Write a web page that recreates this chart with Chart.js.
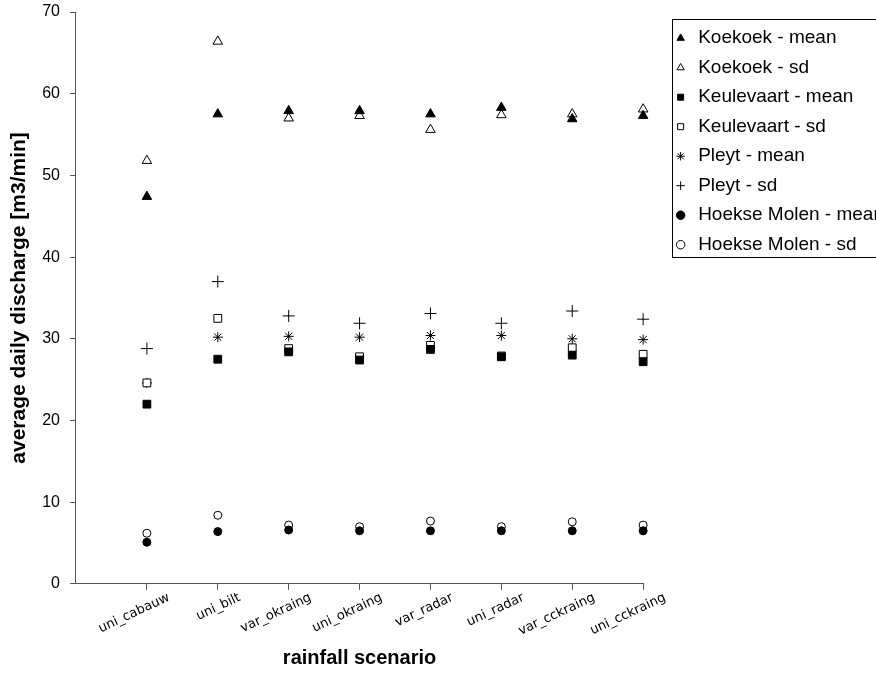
<!DOCTYPE html>
<html>
<head>
<meta charset="utf-8">
<script src="https://cdn.jsdelivr.net/npm/chart.js@4/dist/chart.umd.min.js"></script>
<style>
  html, body { margin: 0; padding: 0; background: #fff; overflow: hidden; }
  #frame { width: 876px; height: 680px; overflow: hidden; position: relative; }
  /* a bit wider than the window so the legend runs off the right edge */
  #wrap { width: 894px; height: 680px; position: absolute; left: 0; top: 0; }
</style>
</head>
<body>
<div id="frame">
  <div id="wrap"><canvas id="chart"></canvas></div>
</div>
<script>
// rainfall scenarios on the x axis
const categories = ["uni_cabauw", "uni_bilt", "var_okraing", "uni_okraing",
                    "var_radar", "uni_radar", "var_cckraing", "uni_cckraing"];

// average daily discharge [m3/min]
const koekoekMean    = [47.4, 57.5, 57.9, 57.9, 57.5, 58.3, 56.9, 57.3];
const koekoekSd      = [51.8, 66.4, 57.0, 57.3, 55.6, 57.4, 57.5, 58.1];
const keulevaartMean = [22.0, 27.5, 28.4, 27.4, 28.7, 27.8, 28.0, 27.2];
const keulevaartSd   = [24.6, 32.5, 28.8, 27.8, 29.2, 27.9, 28.9, 28.1];
const pleytMean      = [24.6, 30.2, 30.3, 30.2, 30.4, 30.4, 30.0, 29.9];
const pleytSd        = [28.8, 37.0, 32.8, 31.9, 33.1, 31.9, 33.4, 32.4];
const hoekseMean     = [5.1, 6.4, 6.6, 6.5, 6.5, 6.5, 6.5, 6.5];
const hoekseSd       = [6.2, 8.4, 7.2, 7.0, 7.7, 7.0, 7.6, 7.2];

const yTicks = [0, 10, 20, 30, 40, 50, 60, 70];

const toPoints = vals => vals.map((v, i) => ({ x: i + 1, y: v }));

function series(label, vals, style, filled, radius) {
  return {
    label: label,
    data: toPoints(vals),
    showLine: false,
    clip: false,
    pointStyle: style,
    pointRadius: radius,
    pointBorderWidth: 1,
    pointBorderColor: "#000",
    pointBackgroundColor: filled ? "#000" : "#fff",
    borderColor: "#000",
    backgroundColor: filled ? "#000" : "#fff"
  };
}

// box around the legend entries, like the original
const legendFrame = {
  id: "legendFrame",
  afterDraw(chart) {
    const hb = chart.legend.legendHitBoxes;
    if (!hb || !hb.length) return;
    const ctx = chart.ctx;
    const first = hb[0];
    const last = hb[hb.length - 1];
    const top = Math.round(first.top + first.height / 2 - 19);
    const bottom = Math.round(last.top + last.height / 2 + 12);
    const left = Math.round(first.left - 1);
    ctx.save();
    ctx.strokeStyle = "#000";
    ctx.lineWidth = 1;
    ctx.strokeRect(left + 0.5, top + 0.5, chart.width - left + 10, bottom - top);
    ctx.restore();
  }
};

const ctx = document.getElementById("chart").getContext("2d");

new Chart(ctx, {
  type: "scatter",
  data: {
    datasets: [
      series("Koekoek - mean", koekoekMean, "triangle", true, 5.5),
      series("Koekoek - sd", koekoekSd, "triangle", false, 5.5),
      series("Keulevaart - mean", keulevaartMean, "rect", true, 5.5),
      series("Keulevaart - sd", keulevaartSd, "rect", false, 5.5),
      series("Pleyt - mean", pleytMean, "star", true, 5),
      series("Pleyt - sd", pleytSd, "cross", false, 6),
      series("Hoekse Molen - mean", hoekseMean, "circle", true, 4),
      series("Hoekse Molen - sd", hoekseSd, "circle", false, 4)
    ]
  },
  options: {
    responsive: true,
    maintainAspectRatio: false,
    animation: false,
    events: [],
    layout: { padding: { left: 1, top: 2, right: 0, bottom: 10 } },
    plugins: {
      legend: {
        position: "right",
        align: "start",
        maxWidth: 300,
        title: { display: true, text: " ", padding: { top: 15, bottom: 0 }, font: { size: 1 } },
        labels: {
          usePointStyle: true,
          boxWidth: 16,
          boxHeight: 6,
          padding: 10.5,
          color: "#000",
          font: { family: "'Liberation Sans', Arial, sans-serif", size: 19 }
        }
      },
      tooltip: { enabled: false }
    },
    scales: {
      x: {
        type: "linear",
        min: 0,
        max: categories.length,
        afterBuildTicks: axis => {
          axis.ticks = categories.map((c, i) => ({ value: i + 1 }));
        },
        ticks: {
          autoSkip: false,
          minRotation: 25,
          maxRotation: 25,
          labelOffset: 22,
          color: "#000",
          padding: 0,
          font: { family: "'DejaVu Sans', Verdana, sans-serif", size: 13 },
          callback: value => categories[value - 1] || ""
        },
        grid: { drawOnChartArea: false, drawTicks: true, tickLength: 6, color: "#555" },
        border: { display: true, color: "#555", width: 1 },
        title: {
          display: true,
          text: "rainfall scenario",
          color: "#000",
          padding: { top: 7, bottom: 0 },
          font: { family: "'Liberation Sans', Arial, sans-serif", size: 20, weight: "bold" }
        }
      },
      y: {
        min: 0,
        max: 70,
        afterBuildTicks: axis => {
          axis.ticks = yTicks.map(v => ({ value: v }));
        },
        afterFit: s => { s.paddingTop = 12; s.paddingBottom = 12; },
        ticks: {
          color: "#000",
          padding: 10,
          font: { family: "'Liberation Sans', Arial, sans-serif", size: 16 }
        },
        grid: { drawOnChartArea: false, drawTicks: true, tickLength: 6, color: "#555" },
        border: { display: true, color: "#555", width: 1 },
        title: {
          display: true,
          text: "average daily discharge [m3/min]",
          color: "#000",
          padding: { top: 6, bottom: 0 },
          font: { family: "'Liberation Sans', Arial, sans-serif", size: 21, weight: "bold" }
        }
      },
      // empty strip between the plot and the legend
      gap: {
        type: "linear",
        position: "right",
        display: true,
        afterFit: s => { s.width = 19; },
        ticks: { display: false },
        grid: { display: false },
        border: { display: false }
      }
    }
  },
  plugins: [legendFrame]
});
</script>
</body>
</html>
